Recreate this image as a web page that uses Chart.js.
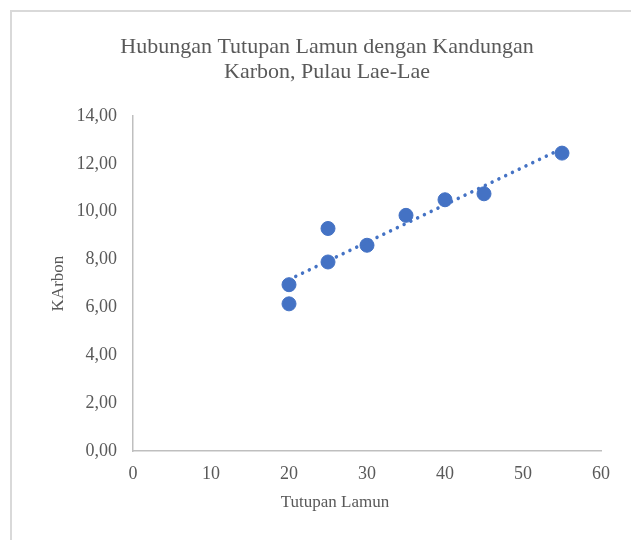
<!DOCTYPE html>
<html>
<head>
<meta charset="utf-8">
<script src="https://cdn.jsdelivr.net/npm/chart.js@4/dist/chart.umd.min.js"></script>
<style>
  html, body { margin: 0; padding: 0; background: #fff; }
  #wrap { position: relative; width: 631px; height: 540px; overflow: hidden; }
  #frame { position: absolute; left: 10px; top: 10px; width: 700px; height: 600px;
           border-top: 2px solid #d9d9d9; border-left: 2px solid #d9d9d9; box-sizing: border-box; }
  canvas { position: absolute; left: 0; top: 0; }
</style>
</head>
<body>
<div id="wrap">
  <div id="frame"></div>
  <canvas id="c" width="631" height="540"></canvas>
</div>
<script>
const titleLines = ['Hubungan Tutupan Lamun dengan Kandungan', 'Karbon, Pulau Lae-Lae'];
const xAxisTitle = 'Tutupan Lamun';
const yAxisTitle = 'KArbon';
const tutupanLamun = [20, 20, 25, 25, 30, 35, 40, 45, 55];
const karbon = [6.95, 6.15, 9.3, 7.9, 8.6, 9.85, 10.5, 10.75, 12.45];
const xTicks = [0, 10, 20, 30, 40, 50, 60];
const yTicks = [0, 2, 4, 6, 8, 10, 12, 14];

const FONT = "'Liberation Serif', 'Times New Roman', serif";
const TEXT = '#595959';
const BLUE = '#4472C4';

// linear least-squares trendline from the data
const n = tutupanLamun.length;
const mx = tutupanLamun.reduce((a, b) => a + b, 0) / n;
const my = karbon.reduce((a, b) => a + b, 0) / n;
let sxy = 0, sxx = 0;
for (let i = 0; i < n; i++) { sxy += (tutupanLamun[i] - mx) * (karbon[i] - my); sxx += (tutupanLamun[i] - mx) ** 2; }
const slope = sxy / sxx, intercept = my - slope * mx;
const xMin = Math.min(...tutupanLamun), xMax = Math.max(...tutupanLamun);
const trend = [xMin, xMax].map(x => ({ x, y: intercept + slope * x }));

const points = tutupanLamun.map((x, i) => ({ x, y: karbon[i] }));

const axisTitles = {
  id: 'axisTitles',
  afterDraw(chart) {
    const ctx = chart.ctx, a = chart.chartArea;
    ctx.save();
    ctx.fillStyle = TEXT;
    ctx.font = '17px ' + FONT;
    ctx.textAlign = 'center';
    ctx.textBaseline = 'middle';
    ctx.fillText(xAxisTitle, 335, 503);
    ctx.translate(59, (a.top + a.bottom) / 2);
    ctx.rotate(-Math.PI / 2);
    ctx.fillText(yAxisTitle, 0, 0);
    ctx.restore();
  }
};

new Chart(document.getElementById('c'), {
  type: 'scatter',
  data: {
    datasets: [
      {
        type: 'line',
        data: trend,
        borderColor: BLUE,
        borderWidth: 3.5,
        borderDash: [0.01, 7.5],
        borderCapStyle: 'round',
        pointRadius: 0,
        fill: false,
        order: 0
      },
      {
        data: points,
        backgroundColor: BLUE,
        borderColor: BLUE,
        borderWidth: 1,
        pointRadius: 7,
        order: 1
      }
    ]
  },
  plugins: [axisTitles],
  options: {
    responsive: false,
    animation: false,
    events: [],
    layout: { padding: { left: 53, right: 30, top: 0, bottom: 0 } },
    plugins: {
      legend: { display: false },
      tooltip: { enabled: false },
      title: {
        display: true,
        text: titleLines,
        color: TEXT,
        font: { family: FONT, size: 22, weight: 'normal', lineHeight: 1.16 },
        padding: { top: 34, bottom: 31 }
      }
    },
    scales: {
      x: {
        type: 'linear',
        min: 0, max: 60,
        afterBuildTicks: s => { s.ticks = xTicks.map(v => ({ value: v })); },
        afterFit: s => { s.height = 89; },
        grid: { display: false, drawTicks: false },
        border: { display: true, color: '#bfbfbf', width: 1.5 },
        ticks: { color: TEXT, font: { family: FONT, size: 18 }, padding: 12, maxRotation: 0 }
      },
      y: {
        type: 'linear',
        min: 0, max: 14,
        afterBuildTicks: s => { s.ticks = yTicks.map(v => ({ value: v })); },
        afterFit: s => { s.width = 80; },
        grid: { display: false, drawTicks: false },
        border: { display: true, color: '#bfbfbf', width: 1.5 },
        ticks: { color: TEXT, font: { family: FONT, size: 18 }, padding: 16,
                 callback: v => v.toFixed(2).replace('.', ',') }
      }
    }
  }
});
</script>
</body>
</html>
